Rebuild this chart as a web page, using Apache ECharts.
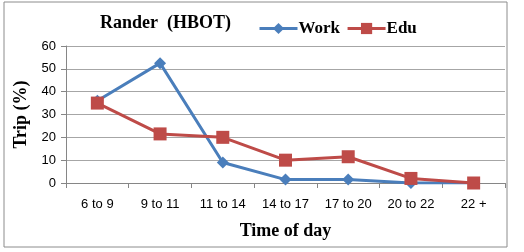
<!DOCTYPE html>
<html>
<head>
<meta charset="utf-8">
<script src="https://cdn.jsdelivr.net/npm/echarts@6/dist/echarts.min.js"></script>
<style>
  html, body { margin: 0; padding: 0; background: #fff; }
  #chart { width: 524px; height: 252px; }
</style>
</head>
<body>
<div id="chart"></div>
<script>
var categories = ["6 to 9", "9 to 11", "11 to 14", "14 to 17", "17 to 20", "20 to 22", "22 +"];
var workValues = [36, 52.5, 9, 1.5, 1.5, 0, 0];
var eduValues = [35, 21.5, 20, 10, 11.5, 2, 0];
var yTicks = [0, 10, 20, 30, 40, 50, 60];

var chart = echarts.init(document.getElementById("chart"));
var serif = "'Liberation Serif', 'DejaVu Serif', serif";
var sans = "'Liberation Sans', Arial, sans-serif";

chart.setOption({
  animation: false,
  graphic: [
    {
      type: "rect",
      shape: { x: 4, y: 2, width: 503, height: 245 },
      style: { fill: "none", stroke: "#8c8c8c", lineWidth: 1 }
    },
    {
      type: "text",
      left: 100,
      top: 14,
      style: { text: "Rander  (HBOT)", font: "bold 18px " + serif, fill: "#000" }
    }
  ],
  legend: {
    left: 253,
    top: 15,
    itemWidth: 38,
    itemHeight: 14,
    itemGap: 6,
    lineStyle: { width: 3 },
    textStyle: { fontFamily: serif, fontSize: 17, fontWeight: "bold", color: "#000", padding: [0, 0, 0, -4] },
    data: ["Work", "Edu"]
  },
  grid: { left: 66, right: 19, top: 46, bottom: 69, containLabel: false },
  xAxis: {
    type: "category",
    data: categories,
    boundaryGap: true,
    name: "Time of day",
    nameLocation: "middle",
    nameGap: 39,
    nameTextStyle: { fontFamily: serif, fontSize: 18, fontWeight: "bold", color: "#000" },
    axisLine: { lineStyle: { color: "#868686" } },
    axisTick: { show: true, alignWithLabel: false, length: 5, lineStyle: { color: "#868686" } },
    axisLabel: { fontFamily: sans, fontSize: 13, color: "#000", margin: 15, interval: 0 }
  },
  yAxis: {
    type: "value",
    min: 0,
    max: 60,
    interval: 10,
    name: "Trip (%)",
    nameLocation: "middle",
    nameGap: 31,
    nameRotate: 90,
    nameTextStyle: { fontFamily: serif, fontSize: 18, fontWeight: "bold", color: "#000" },
    axisLine: { show: true, lineStyle: { color: "#868686" } },
    axisTick: { show: true, length: 5, lineStyle: { color: "#868686" } },
    axisLabel: { fontFamily: sans, fontSize: 13, color: "#000", margin: 10 },
    splitLine: { lineStyle: { color: "#a6a6a6", width: 1 } }
  },
  series: [
    {
      name: "Work",
      type: "line",
      data: workValues,
      symbol: "diamond",
      symbolSize: 12,
      color: "#4a7ebb",
      lineStyle: { width: 3, color: "#4a7ebb" },
      itemStyle: { color: "#4a7ebb" }
    },
    {
      name: "Edu",
      type: "line",
      data: eduValues,
      symbol: "rect",
      symbolSize: 13,
      color: "#be4b48",
      lineStyle: { width: 3, color: "#be4b48" },
      itemStyle: { color: "#be4b48" }
    }
  ]
});
</script>
</body>
</html>
